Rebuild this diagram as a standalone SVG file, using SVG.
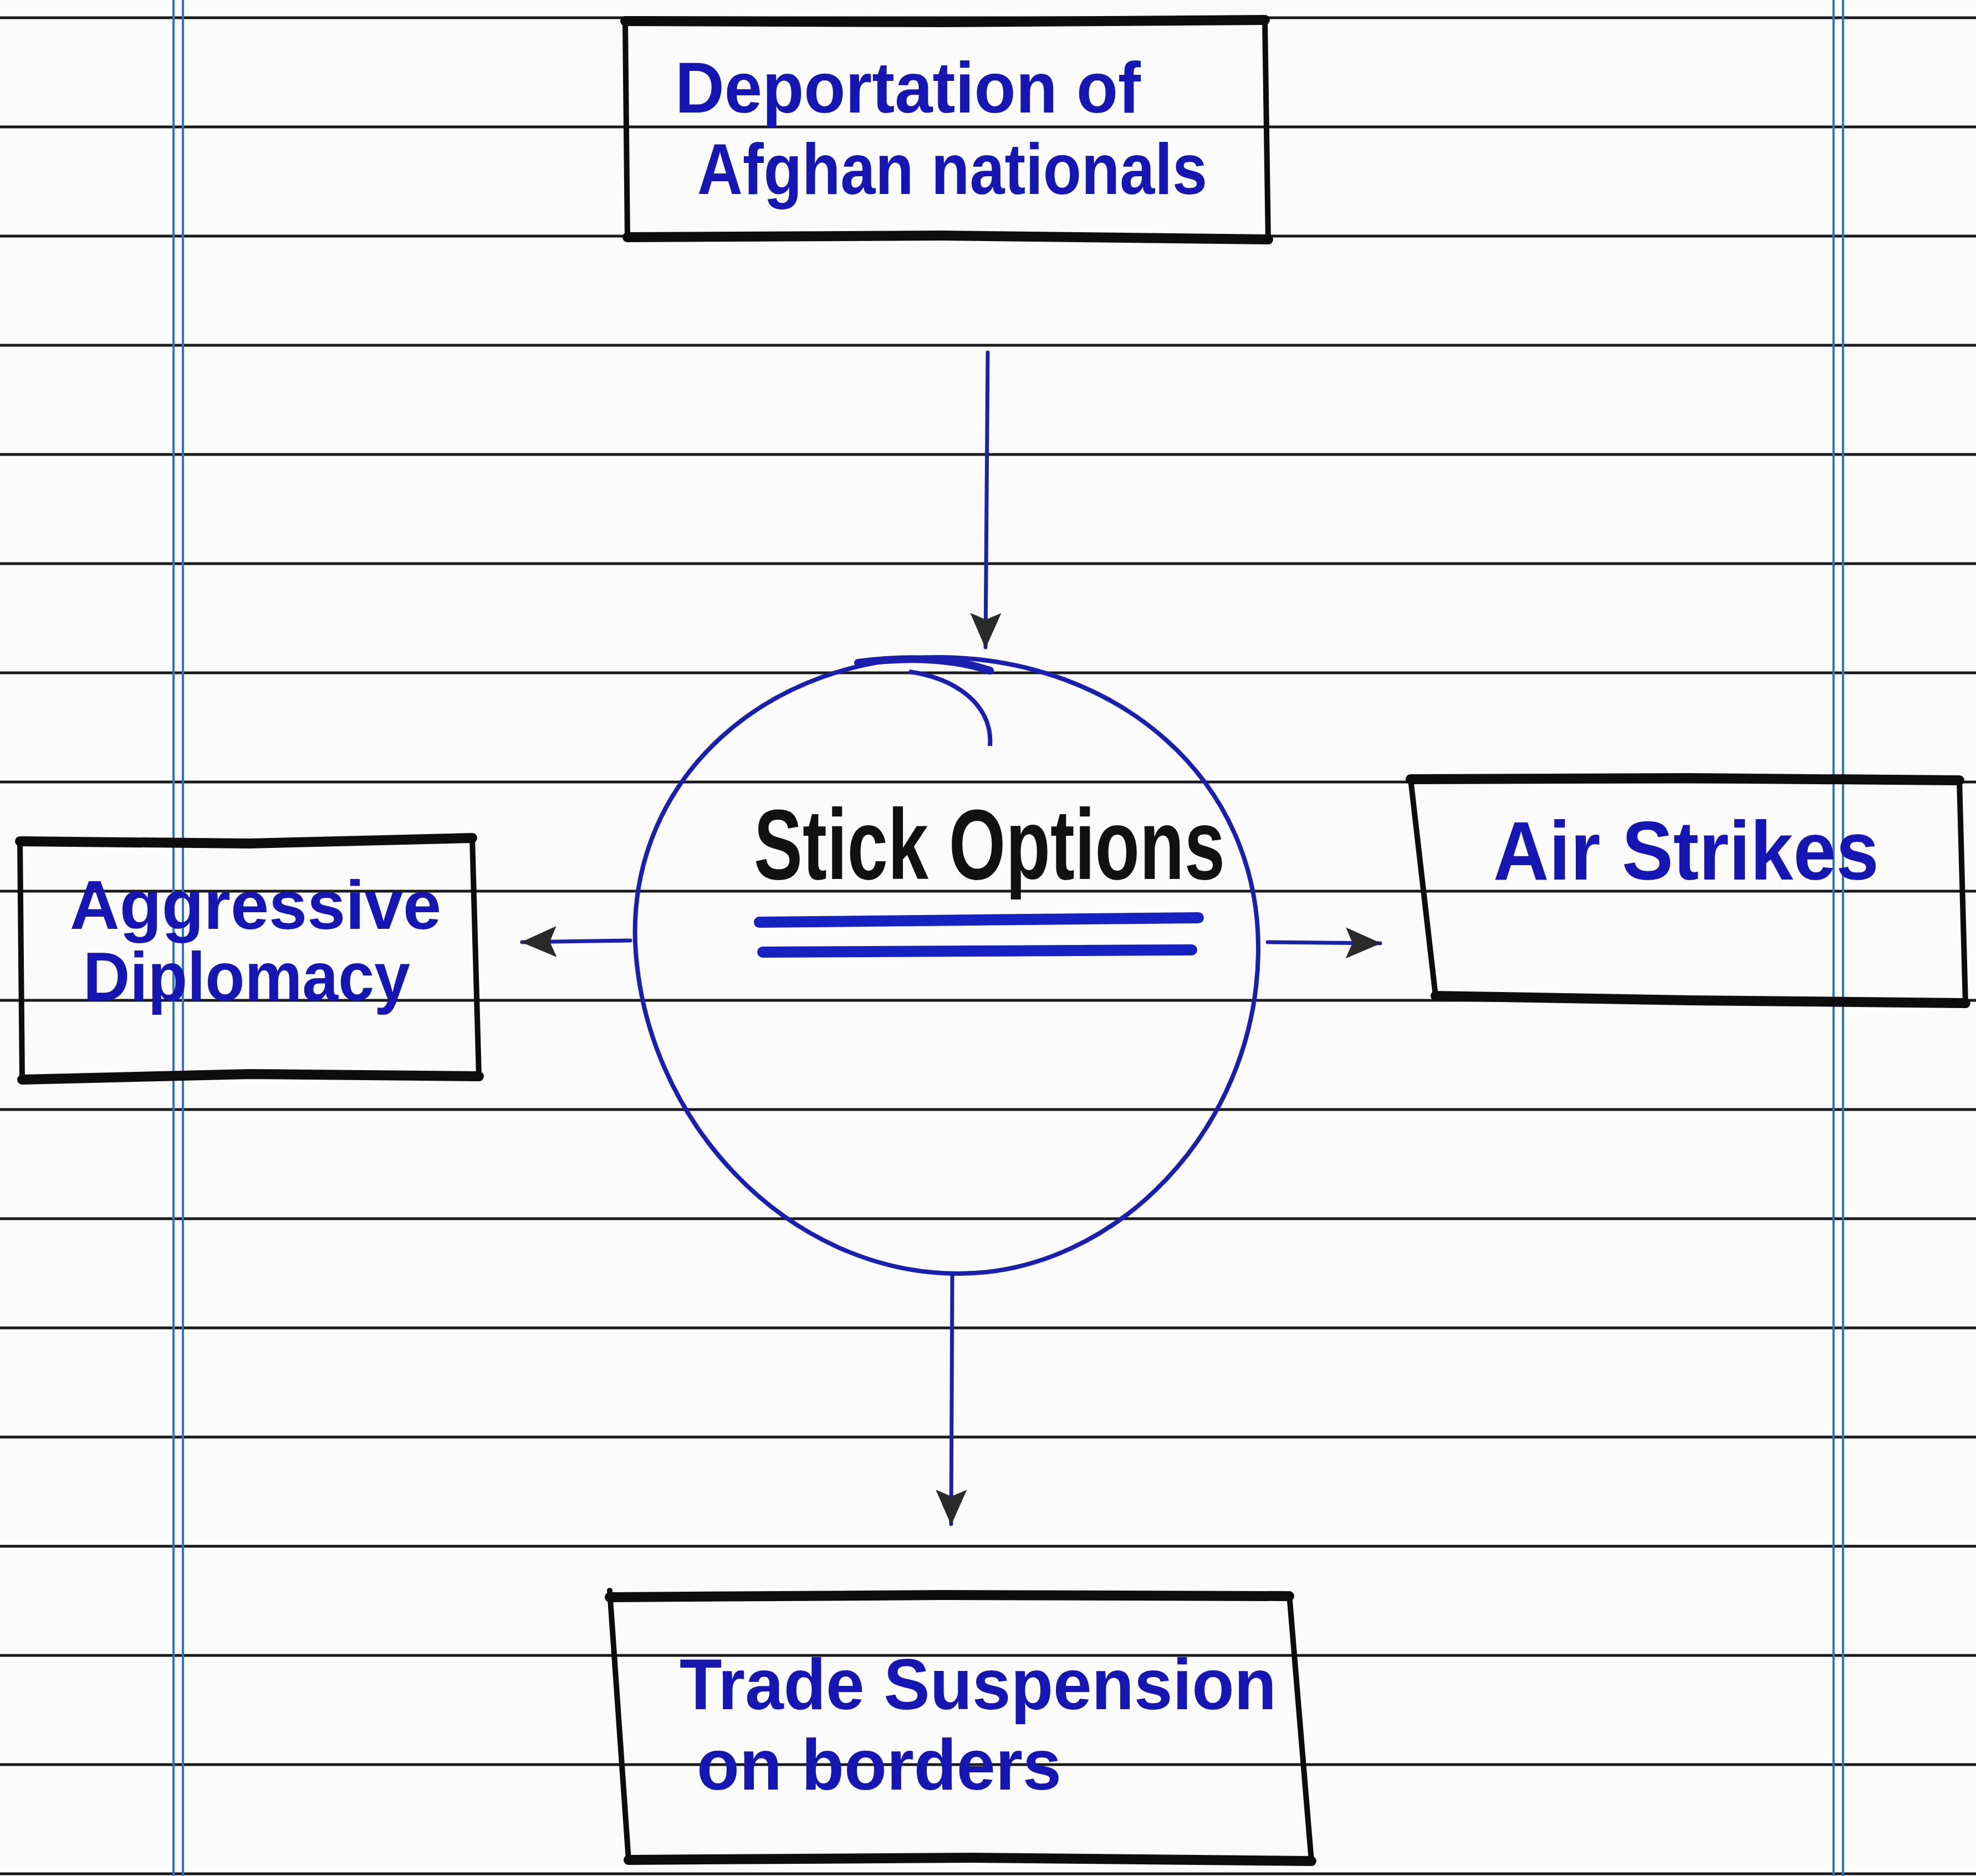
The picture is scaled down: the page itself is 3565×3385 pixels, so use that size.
<svg xmlns="http://www.w3.org/2000/svg" width="3565" height="3385" viewBox="0 0 3565 3385">
<style>
.rule{stroke:#1a1a1a;stroke-width:5;fill:none}
.margin{stroke:#2f74cc;stroke-width:4;fill:none}
.bh{stroke:#0d0d0d;stroke-width:18;fill:none;stroke-linecap:round}
.bv{stroke:#0d0d0d;stroke-width:10;fill:none;stroke-linecap:round}
.lbl{font-family:"Liberation Sans","DejaVu Sans",sans-serif;font-weight:bold;fill:#1616b2}
.title{font-family:"Liberation Sans","DejaVu Sans",sans-serif;font-weight:bold;fill:#111111}
.conn{stroke:#1c22a8;stroke-width:7;fill:none;stroke-linecap:round}
.ring{stroke:#1a1fae;stroke-width:8;fill:none}
.ul{stroke:#1622c0;stroke-width:20;fill:none;stroke-linecap:round}
</style>
<defs>
<marker id="ah" markerUnits="userSpaceOnUse" markerWidth="70" markerHeight="64" refX="62" refY="32" orient="auto">
<path d="M0,4 L64,32 L0,60 L12,32 Z" fill="#2a2a2a"/>
</marker>
</defs>
<rect x="0" y="0" width="3565" height="3385" fill="#fbfbfb"/>
<g id="paper">
<line class="rule" x1="0" y1="32" x2="3565" y2="32"/>
<line class="rule" x1="0" y1="229" x2="3565" y2="229"/>
<line class="rule" x1="0" y1="426" x2="3565" y2="426"/>
<line class="rule" x1="0" y1="623" x2="3565" y2="623"/>
<line class="rule" x1="0" y1="820" x2="3565" y2="820"/>
<line class="rule" x1="0" y1="1017" x2="3565" y2="1017"/>
<line class="rule" x1="0" y1="1214" x2="3565" y2="1214"/>
<line class="rule" x1="0" y1="1411" x2="3565" y2="1411"/>
<line class="rule" x1="0" y1="1608" x2="3565" y2="1608"/>
<line class="rule" x1="0" y1="1805" x2="3565" y2="1805"/>
<line class="rule" x1="0" y1="2002" x2="3565" y2="2002"/>
<line class="rule" x1="0" y1="2199" x2="3565" y2="2199"/>
<line class="rule" x1="0" y1="2396" x2="3565" y2="2396"/>
<line class="rule" x1="0" y1="2593" x2="3565" y2="2593"/>
<line class="rule" x1="0" y1="2790" x2="3565" y2="2790"/>
<line class="rule" x1="0" y1="2987" x2="3565" y2="2987"/>
<line class="rule" x1="0" y1="3184" x2="3565" y2="3184"/>
<line class="rule" x1="0" y1="3381" x2="3565" y2="3381"/>
<line class="margin" x1="313" y1="0" x2="313" y2="3385"/>
<line class="margin" x1="330" y1="0" x2="330" y2="3385"/>
<line class="margin" x1="3308" y1="0" x2="3308" y2="3385"/>
<line class="margin" x1="3325" y1="0" x2="3325" y2="3385"/>
</g>
<g id="connectors">
<path class="conn" d="M1782,636 L1778,1168" marker-end="url(#ah)"/>
<path class="conn" d="M1137,1697 L942,1700" marker-end="url(#ah)"/>
<path class="conn" d="M2287,1700 L2490,1702" marker-end="url(#ah)"/>
<path class="conn" d="M1718,2300 L1716,2750" marker-end="url(#ah)"/>
</g>
<g id="node-deportation">
<path class="bh" d="M1128,38 L1700,40 L2282,36"/>
<path class="bh" d="M1132,428 L1700,425 L2288,432"/>
<path class="bv" d="M1128,38 L1132,428"/>
<path class="bv" d="M2282,36 L2288,432"/>
<text class="lbl" x="1218" y="203" font-size="130" textLength="840" lengthAdjust="spacingAndGlyphs">Deportation of</text>
<text class="lbl" x="1258" y="350" font-size="130" textLength="920" lengthAdjust="spacingAndGlyphs">Afghan nationals</text>
</g>
<g id="node-stick">
<path class="ring" d="M1700,1186 C2010,1190 2275,1400 2270,1720 C2265,2040 2010,2298 1730,2298 C1420,2298 1160,2020 1146,1700 C1135,1400 1390,1182 1700,1186 Z"/>
<path stroke="#1a1fae" stroke-width="14" fill="none" stroke-linecap="round" d="M1548,1196 C1640,1184 1720,1188 1786,1210"/>
<path class="ring" d="M1640,1212 C1720,1222 1792,1270 1786,1346"/>
<text class="title" x="1360" y="1586" font-size="180" textLength="850" lengthAdjust="spacingAndGlyphs">Stick Options</text>
<path class="ul" d="M1370,1664 L1760,1660 L2162,1656"/>
<path class="ul" d="M1376,1718 L1760,1716 L2150,1714"/>
</g>
<g id="node-aggressive">
<path class="bh" d="M36,1518 L450,1522 L852,1512"/>
<path class="bh" d="M40,1948 L450,1938 L864,1942"/>
<path class="bv" d="M36,1518 L40,1948"/>
<path class="bv" d="M852,1512 L864,1942"/>
<text class="lbl" x="126" y="1676" font-size="125" textLength="670" lengthAdjust="spacingAndGlyphs">Aggressive</text>
<text class="lbl" x="150" y="1805" font-size="125" textLength="590" lengthAdjust="spacingAndGlyphs">Diplomacy</text>
</g>
<g id="node-airstrikes">
<path class="bh" d="M2545,1406 L3040,1404 L3535,1408"/>
<path class="bh" d="M2590,1797 L3050,1805 L3546,1810"/>
<path class="bv" d="M2545,1406 L2590,1797"/>
<path class="bv" d="M3535,1408 L3546,1810"/>
<text class="lbl" x="2694" y="1587" font-size="150" textLength="696" lengthAdjust="spacingAndGlyphs">Air Strikes</text>
</g>
<g id="node-trade">
<path class="bh" d="M1100,2882 L1700,2878 L2326,2880"/>
<path class="bh" d="M1134,3356 L1750,3352 L2366,3358"/>
<path class="bv" d="M1100,2870 L1134,3356"/>
<path class="bv" d="M2326,2876 L2366,3358"/>
<text class="lbl" x="1226" y="3084" font-size="130" textLength="1077" lengthAdjust="spacingAndGlyphs">Trade Suspension</text>
<text class="lbl" x="1257" y="3229" font-size="130" textLength="658" lengthAdjust="spacingAndGlyphs">on borders</text>
</g>
</svg>
